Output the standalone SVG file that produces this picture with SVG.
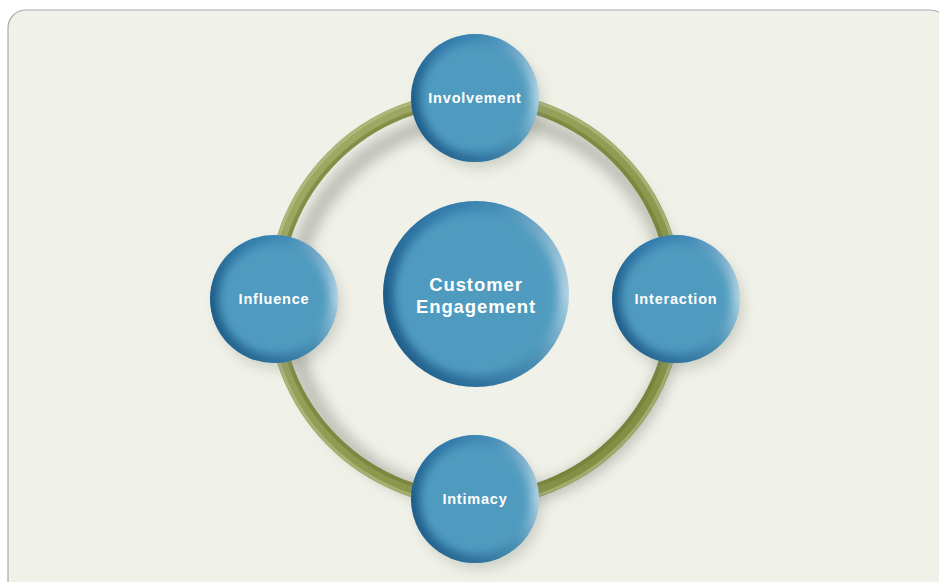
<svg xmlns="http://www.w3.org/2000/svg" width="939" height="582" viewBox="0 0 939 582">
<defs>
<style>
.lbl{font-family:"Liberation Sans",Arial,sans-serif;font-weight:bold;fill:#ffffff;text-anchor:middle;font-size:14.5px;letter-spacing:0.8px}
.big{font-size:18.5px;letter-spacing:0.9px}
</style>
<linearGradient id="rim" x1="0" y1="0.55" x2="1" y2="0.3">
<stop offset="0" stop-color="#1d5a86"/>
<stop offset="0.4" stop-color="#3a82b0"/>
<stop offset="0.7" stop-color="#5aa2c4"/>
<stop offset="1" stop-color="#c3dde9"/>
</linearGradient>
<linearGradient id="rimTop" x1="0" y1="0" x2="0" y2="1">
<stop offset="0" stop-color="#2670a6" stop-opacity="0.45"/>
<stop offset="0.5" stop-color="#2b73a6" stop-opacity="0"/>
<stop offset="1" stop-color="#1f5a80" stop-opacity="0.4"/>
</linearGradient>
<filter id="soft" x="-20%" y="-20%" width="140%" height="140%">
<feGaussianBlur stdDeviation="5"/>
</filter>
<filter id="shadow" x="-30%" y="-30%" width="160%" height="160%">
<feGaussianBlur stdDeviation="7"/>
</filter>
<linearGradient id="ringG" x1="0" y1="0" x2="1" y2="1">
<stop offset="0" stop-color="#a3ad68"/>
<stop offset="1" stop-color="#7e8a3e"/>
</linearGradient>
<g id="orb">
<circle r="64" fill="url(#rim)"/>
<circle r="64" fill="url(#rimTop)"/>
<circle r="55" fill="#4f9bbf" filter="url(#soft)"/>
</g>
<g id="orbBig">
<circle r="93" fill="url(#rim)"/>
<circle r="93" fill="url(#rimTop)"/>
<circle r="82" fill="#4f9bbf" filter="url(#soft)"/>
</g>
</defs>
<rect x="8" y="10" width="940" height="590" rx="18" ry="18" fill="#f0f1e8" stroke="#aaaaaa" stroke-width="1.2"/>
<g id="connectors">
<circle cx="483" cy="309" r="192" fill="none" stroke="#8e9086" stroke-opacity="0.55" stroke-width="16" filter="url(#shadow)"/>
<circle cx="475" cy="299" r="201" fill="none" stroke="url(#ringG)" stroke-width="14"/>
<circle cx="475" cy="299" r="196" fill="none" stroke="#6e7a33" stroke-opacity="0.55" stroke-width="4"/>
<circle cx="475" cy="299" r="206" fill="none" stroke="#c0c896" stroke-opacity="0.5" stroke-width="3"/>
</g>
<g id="node-involvement">
<circle cx="480" cy="106" r="62" fill="#8a8e88" fill-opacity="0.35" filter="url(#shadow)"/>
<use href="#orb" x="475" y="98"/>
<text class="lbl" x="475" y="103">Involvement</text>
</g>
<g id="node-influence">
<circle cx="279" cy="307" r="62" fill="#8a8e88" fill-opacity="0.35" filter="url(#shadow)"/>
<use href="#orb" x="274" y="299"/>
<text class="lbl" x="274" y="304">Influence</text>
</g>
<g id="node-interaction">
<circle cx="681" cy="307" r="62" fill="#8a8e88" fill-opacity="0.35" filter="url(#shadow)"/>
<use href="#orb" x="676" y="299"/>
<text class="lbl" x="676" y="304">Interaction</text>
</g>
<g id="node-intimacy">
<circle cx="480" cy="507" r="62" fill="#8a8e88" fill-opacity="0.35" filter="url(#shadow)"/>
<use href="#orb" x="475" y="499"/>
<text class="lbl" x="475" y="504">Intimacy</text>
</g>
<g id="node-center">
<use href="#orbBig" x="476" y="294"/>
<text class="lbl big" x="476" y="291">Customer</text>
<text class="lbl big" x="476" y="313">Engagement</text>
</g>
</svg>
